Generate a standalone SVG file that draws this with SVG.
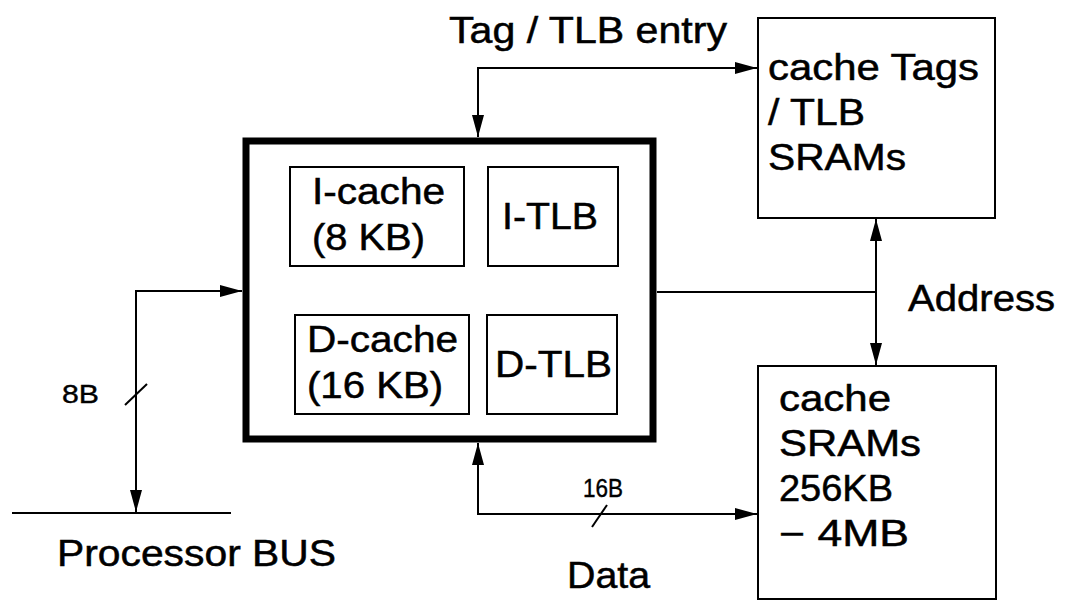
<svg xmlns="http://www.w3.org/2000/svg" width="1065" height="603" viewBox="0 0 1065 603">
  <style>
    .box { fill: #fff; stroke: #000; stroke-width: 2; }
    .chip { fill: #fff; stroke: #000; stroke-width: 7; }
    .wire { fill: none; stroke: #000; stroke-width: 2; }
    .lbl { font-family: "Liberation Sans", Arial, Helvetica, sans-serif; font-size: 36px; fill: #000; stroke: #000; stroke-width: 0.5; }
    .sm { font-family: "Liberation Sans", Arial, Helvetica, sans-serif; font-size: 25px; fill: #000; stroke: #000; stroke-width: 0.4; }
  </style>
  <defs>
    <marker id="arr" viewBox="0 0 22 12" refX="22" refY="6" markerWidth="22" markerHeight="12" markerUnits="userSpaceOnUse" orient="auto-start-reverse">
      <path d="M0,0 L22,6 L0,12 Z" fill="#000"/>
    </marker>
  </defs>

  <!-- processor chip with on-chip caches and TLBs -->
  <g id="cpu">
    <rect class="chip" x="246" y="141" width="407" height="298"/>
  </g>
  <g id="icache">
    <rect class="box" x="290" y="167" width="174" height="99"/>
    <text class="lbl" x="312" y="204" textLength="133" lengthAdjust="spacingAndGlyphs">I-cache</text>
    <text class="lbl" x="312" y="250" textLength="113" lengthAdjust="spacingAndGlyphs">(8 KB)</text>
  </g>
  <g id="itlb">
    <rect class="box" x="488" y="167" width="130" height="99"/>
    <text class="lbl" x="502" y="229" textLength="96" lengthAdjust="spacingAndGlyphs">I-TLB</text>
  </g>
  <g id="dcache">
    <rect class="box" x="295" y="315" width="174" height="99"/>
    <text class="lbl" x="307" y="352" textLength="151" lengthAdjust="spacingAndGlyphs">D-cache</text>
    <text class="lbl" x="307" y="398" textLength="136" lengthAdjust="spacingAndGlyphs">(16 KB)</text>
  </g>
  <g id="dtlb">
    <rect class="box" x="487" y="315" width="130" height="99"/>
    <text class="lbl" x="495" y="377" textLength="117" lengthAdjust="spacingAndGlyphs">D-TLB</text>
  </g>

  <!-- external SRAMs -->
  <g id="tag-srams">
    <rect class="box" x="758" y="18" width="237" height="200"/>
    <text class="lbl" x="768" y="80" textLength="211" lengthAdjust="spacingAndGlyphs">cache Tags</text>
    <text class="lbl" x="768" y="125" textLength="97" lengthAdjust="spacingAndGlyphs">/ TLB</text>
    <text class="lbl" x="768" y="170" textLength="138" lengthAdjust="spacingAndGlyphs">SRAMs</text>
  </g>
  <g id="cache-srams">
    <rect class="box" x="758" y="366" width="238" height="233"/>
    <text class="lbl" x="779" y="411" textLength="112" lengthAdjust="spacingAndGlyphs">cache</text>
    <text class="lbl" x="779" y="456" textLength="142" lengthAdjust="spacingAndGlyphs">SRAMs</text>
    <text class="lbl" x="779" y="501" textLength="114" lengthAdjust="spacingAndGlyphs">256KB</text>
    <text class="lbl" x="779" y="546" textLength="130" lengthAdjust="spacingAndGlyphs">− 4MB</text>
  </g>

  <!-- buses and signal paths -->
  <g id="connectors">
    <path class="wire" d="M478,137 V68 H757" marker-start="url(#arr)" marker-end="url(#arr)"/>
    <path class="wire" d="M657,292 H876"/>
    <path class="wire" d="M876,219 V365" marker-start="url(#arr)" marker-end="url(#arr)"/>
    <path class="wire" d="M242,291 H136 V512" marker-start="url(#arr)" marker-end="url(#arr)"/>
    <path class="wire" d="M12,513 H231"/>
    <path class="wire" d="M478,443 V514 H757" marker-start="url(#arr)" marker-end="url(#arr)"/>
    <line class="wire" x1="125" y1="405" x2="147" y2="384" stroke-width="3"/>
    <line class="wire" x1="592" y1="527" x2="607" y2="505" stroke-width="3"/>
  </g>

  <g id="labels">
    <text class="lbl" x="449" y="43" textLength="278" lengthAdjust="spacingAndGlyphs">Tag / TLB entry</text>
    <text class="lbl" x="908" y="311" textLength="147" lengthAdjust="spacingAndGlyphs">Address</text>
    <text class="lbl" x="57" y="566" textLength="279" lengthAdjust="spacingAndGlyphs">Processor BUS</text>
    <text class="lbl" x="567" y="588" textLength="83" lengthAdjust="spacingAndGlyphs">Data</text>
    <text class="sm" x="62" y="403" textLength="37" lengthAdjust="spacingAndGlyphs">8B</text>
    <text class="sm" x="583" y="497" textLength="40" lengthAdjust="spacingAndGlyphs">16B</text>
  </g>
</svg>
